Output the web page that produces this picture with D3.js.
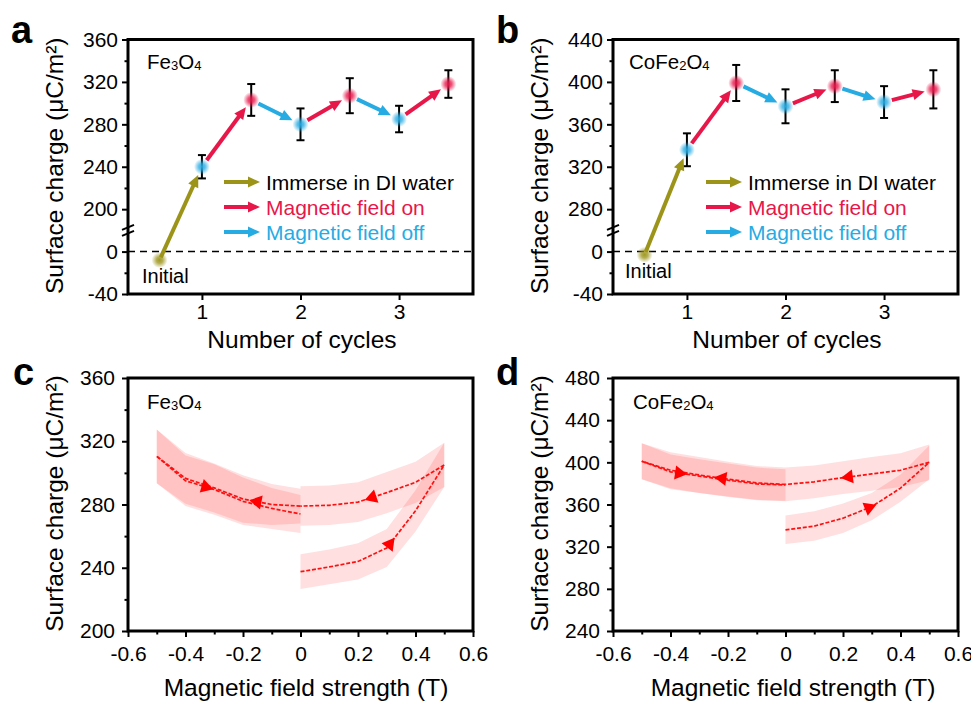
<!DOCTYPE html>
<html>
<head>
<meta charset="utf-8">
<script src="https://cdn.jsdelivr.net/npm/d3@7"></script>
<style>
  body { margin: 0; background: #fff; }
</style>
</head>
<body>
<svg id="chart" width="971" height="702"></svg>
<script>
// ---- data: cycling (a, b) ----
const cycles = [0.57, 1, 1.5, 2, 2.5, 3, 3.5];
const feCharge = [-8, 240, 303, 280, 307, 285, 318];
const feErr = [0, 11, 15, 15, 16.5, 12.5, 13];
const coCharge = [-3, 336, 399, 377, 396, 381, 393];
const coErr = [0, 15.5, 17, 16, 15, 15, 18];
// step i goes from point i to point i+1
const steps = ['immerse', 'on', 'off', 'on', 'off', 'on'];
const cycleTicks = [1, 2, 3];
const feCycleYTicks = [-40, 0, 200, 240, 280, 320, 360];
const coCycleYTicks = [-40, 0, 280, 320, 360, 400, 440];
const legendLabels = ['Immerse in DI water', 'Magnetic field on', 'Magnetic field off'];
const legendSteps = ['immerse', 'on', 'off'];

// ---- data: field sweeps (c, d) ----
const fieldUp = [0, 0.1, 0.2, 0.3, 0.4, 0.5];
const fieldDown = [0.5, 0.4, 0.3, 0.2, 0.1, 0];
const fieldNeg = [0, -0.1, -0.2, -0.3, -0.4, -0.5];
const fieldBack = [-0.5, -0.4, -0.3, -0.2, -0.1, 0];

const feUp = [237.5, 240.5, 244, 252.5, 276, 305];
const feUpErr = [11, 11, 11.5, 12, 13, 14];
const feDown = [305, 294, 287.5, 281.5, 279.5, 279];
const feDownErr = [14, 13, 13, 12.5, 12.5, 12.5];
const feNeg = [279, 280, 283.5, 290.5, 296.5, 310.5];
const feNegErr = [11, 13, 15, 15.5, 16, 17];
const feBack = [310.5, 295, 289.5, 282, 277.5, 274];
const feBackErr = [17, 16, 16, 15, 13, 12];
const feMarks = [0.31, 0.25, -0.15, -0.33];

const coUp = [336, 339.5, 347, 358, 375.5, 400];
const coUpErr = [13.5, 14, 14, 13, 13, 16];
const coDown = [400, 392.5, 389, 385.5, 381.5, 379];
const coDownErr = [17, 16, 16, 15.5, 15.5, 16];
const coNeg = [379, 380.5, 384, 388, 392.5, 401];
const coNegErr = [16, 16, 16.5, 17, 17, 17];
const coBack = [401, 391, 387, 383, 379.5, 378.5];
const coBackErr = [17, 16.5, 16, 16, 15.5, 15];
const coMarks = [0.29, 0.22, -0.22, -0.37];

const fieldTicks = [-0.6, -0.4, -0.2, 0, 0.2, 0.4, 0.6];
const fieldMinor = [-0.5, -0.3, -0.1, 0.1, 0.3, 0.5];
const feFieldYTicks = [200, 240, 280, 320, 360];
const coFieldYTicks = [240, 280, 320, 360, 400, 440, 480];

const FONT = 'Arial, "Liberation Sans", Helvetica, sans-serif';
const colors = { immerse: '#9c9419', on: '#e8174a', off: '#27abe3' };
const textColors = { immerse: '#000', on: '#e8174a', off: '#27abe3' };

const svg = d3.select('#chart');
const defs = svg.append('defs');

// soft glowing dots
Object.keys(colors).forEach(k => {
  const grad = defs.append('radialGradient').attr('id', 'dot-' + k);
  grad.append('stop').attr('offset', '0%').attr('stop-color', colors[k]).attr('stop-opacity', 0.95);
  grad.append('stop').attr('offset', '40%').attr('stop-color', colors[k]).attr('stop-opacity', 0.75);
  grad.append('stop').attr('offset', '100%').attr('stop-color', colors[k]).attr('stop-opacity', 0);
});

function styleAxis(sel, size) {
  sel.attr('font-family', FONT).attr('font-size', size);
  sel.select('.domain').remove();
  sel.selectAll('.tick line').attr('stroke', '#000').attr('stroke-width', 2);
  sel.selectAll('.tick text').attr('fill', '#000');
}

function frame(g, p) {
  g.append('rect')
    .attr('x', p.x0).attr('y', p.y0)
    .attr('width', p.x1 - p.x0).attr('height', p.y1 - p.y0)
    .attr('fill', 'none').attr('stroke', '#000').attr('stroke-width', 3);
}

function material(g, x, y, parts) {
  const t = g.append('text').attr('x', x).attr('y', y)
    .attr('font-family', FONT).attr('font-size', 20.5).attr('fill', '#000');
  parts.forEach(([s, sub]) => {
    if (sub) t.append('tspan').attr('font-size', 13).attr('dy', 1).text(s);
    else t.append('tspan').attr('dy', t.selectAll('tspan').size() ? -1 : 0).text(s);
  });
}

function labels(g, p) {
  g.append('text').attr('x', p.labelX).attr('y', p.labelY)
    .attr('font-family', FONT).attr('font-size', 38).attr('font-weight', 'bold')
    .text(p.label);
  g.append('text')
    .attr('transform', `translate(${p.yTitleX},${(p.y0 + p.y1) / 2 - 1}) rotate(-90)`)
    .attr('text-anchor', 'middle').attr('font-family', FONT).attr('font-size', 24.5)
    .text('Surface charge (μC/m²)');
  g.append('text').attr('x', p.xTitleX).attr('y', p.xTitleY)
    .attr('text-anchor', 'middle').attr('font-family', FONT).attr('font-size', 24.5)
    .text(p.xTitle);
}

function arrow(g, a, b, color, s0, s1) {
  const dx = b[0] - a[0], dy = b[1] - a[1];
  const len = Math.hypot(dx, dy), ux = dx / len, uy = dy / len;
  const st = [a[0] + ux * s0, a[1] + uy * s0];
  const tip = [b[0] - ux * s1, b[1] - uy * s1];
  const head = 12, hw = 5.5;
  const base = [tip[0] - ux * head, tip[1] - uy * head];
  g.append('line').attr('x1', st[0]).attr('y1', st[1])
    .attr('x2', base[0] + ux).attr('y2', base[1] + uy)
    .attr('stroke', color).attr('stroke-width', 4);
  g.append('path')
    .attr('d', `M${tip[0]},${tip[1]}L${base[0] - uy * hw},${base[1] + ux * hw}L${base[0] + uy * hw},${base[1] - ux * hw}Z`)
    .attr('fill', color);
}

function drawCyclePanel(p) {
  const g = svg.append('g');
  const x = d3.scaleLinear().domain([0.25, 3.75]).range([p.x0, p.x1]);
  const t = p.yTicks, n = t.length - 1;
  const step = (p.y1 - p.y0) / n;
  // broken axis: one tick step covers 0 .. t[2]
  const y = d3.scaleLinear()
    .domain([t[0], t[1], t[2], t[n]])
    .range([p.y1, p.y1 - step, p.y1 - 2 * step, p.y0]);

  const minor = [];
  for (let i = 0; i < n; i++) if (i !== 1) minor.push((t[i] + t[i + 1]) / 2);

  g.append('g').attr('transform', `translate(${p.x0},0)`)
    .call(d3.axisLeft(y).tickValues(t).tickSize(6).tickPadding(4).tickFormat(d => String(d)))
    .call(s => styleAxis(s, 21));
  g.append('g').attr('transform', `translate(${p.x0},0)`)
    .call(d3.axisLeft(y).tickValues(minor).tickSize(3.5).tickFormat(''))
    .call(s => styleAxis(s, 21));
  g.append('g').attr('transform', `translate(0,${p.y1})`)
    .call(d3.axisBottom(x).tickValues(cycleTicks).tickSize(6).tickPadding(4).tickFormat(d => String(d)))
    .call(s => styleAxis(s, 21));

  // zero line
  g.append('line').attr('x1', p.x0).attr('x2', p.x1).attr('y1', y(0)).attr('y2', y(0))
    .attr('stroke', '#000').attr('stroke-width', 1.5).attr('stroke-dasharray', '7 5');

  // axis break
  const yb = p.y1 - 1.5 * step;
  g.append('rect').attr('x', p.x0 - 3).attr('y', yb - 3).attr('width', 6).attr('height', 6).attr('fill', '#fff');
  [-3, 3].forEach(o => {
    g.append('line').attr('x1', p.x0 - 6).attr('y1', yb + o + 2.5)
      .attr('x2', p.x0 + 6).attr('y2', yb + o - 2.5)
      .attr('stroke', '#000').attr('stroke-width', 2);
  });

  const pts = cycles.map((c, i) => [x(c), y(p.charge[i])]);

  // error bars
  pts.forEach((pt, i) => {
    const e = p.err[i];
    if (!e) return;
    const yt = y(p.charge[i] + e), yl = y(p.charge[i] - e);
    g.append('line').attr('x1', pt[0]).attr('x2', pt[0]).attr('y1', yt).attr('y2', yl)
      .attr('stroke', '#000').attr('stroke-width', 2);
    [yt, yl].forEach(yy => g.append('line').attr('x1', pt[0] - 4).attr('x2', pt[0] + 4)
      .attr('y1', yy).attr('y2', yy).attr('stroke', '#000').attr('stroke-width', 2));
  });

  // arrows between consecutive states
  steps.forEach((s, i) => arrow(g, pts[i], pts[i + 1], colors[s], i === 0 ? 3 : 8, 9));

  // dots
  pts.forEach((pt, i) => {
    const k = i === 0 ? 'immerse' : (Number.isInteger(cycles[i]) ? 'off' : 'on');
    g.append('circle').attr('cx', pt[0]).attr('cy', pt[1]).attr('r', 8)
      .attr('fill', `url(#dot-${k})`);
  });

  g.append('text').attr('x', p.initX).attr('y', p.initY)
    .attr('font-family', FONT).attr('font-size', 20).text('Initial');

  // legend
  legendSteps.forEach((s, i) => {
    const ly = 182 + i * 25;
    arrow(g, [p.legX, ly], [p.legX + 36, ly], colors[s], 0, 0);
    g.append('text').attr('x', p.legX + 42).attr('y', ly + 7.5)
      .attr('font-family', FONT).attr('font-size', 21).attr('fill', textColors[s])
      .text(legendLabels[i]);
  });

  material(g, p.matX, 70, p.mat);
  frame(g, p);
  labels(g, p);
}

function drawFieldPanel(p) {
  const g = svg.append('g');
  const x = d3.scaleLinear().domain([-0.6, 0.6]).range([p.x0, p.x1]);
  const t = p.yTicks;
  const y = d3.scaleLinear().domain([t[0], t[t.length - 1]]).range([p.y1, p.y0]);
  const minor = t.slice(0, -1).map((v, i) => (v + t[i + 1]) / 2);

  g.append('g').attr('transform', `translate(${p.x0},0)`)
    .call(d3.axisLeft(y).tickValues(t).tickSize(6).tickPadding(7).tickFormat(d => String(d)))
    .call(s => styleAxis(s, 21));
  g.append('g').attr('transform', `translate(${p.x0},0)`)
    .call(d3.axisLeft(y).tickValues(minor).tickSize(3.5).tickFormat(''))
    .call(s => styleAxis(s, 21));
  g.append('g').attr('transform', `translate(0,${p.y1})`)
    .call(d3.axisBottom(x).tickValues(fieldTicks).tickSize(6).tickPadding(9).tickFormat(d => String(d)))
    .call(s => styleAxis(s, 21));
  g.append('g').attr('transform', `translate(0,${p.y1})`)
    .call(d3.axisBottom(x).tickValues(fieldMinor).tickSize(3.5).tickFormat(''))
    .call(s => styleAxis(s, 21));

  const band = d3.area()
    .x(d => x(d.f)).y0(d => y(d.v - d.e)).y1(d => y(d.v + d.e));
  const line = d3.line().x(d => x(d.f)).y(d => y(d.v));

  const rows = p.branches.map(b => b.f.map((f, i) => ({ f, v: b.v[i], e: b.e[i] })));
  rows.forEach(r => g.append('path').attr('d', band(r)).attr('fill', '#ff0000').attr('fill-opacity', 0.125));
  rows.forEach(r => g.append('path').attr('d', line(r)).attr('fill', 'none')
    .attr('stroke', '#ff1010').attr('stroke-width', 1.7).attr('stroke-dasharray', '4 1.8'));

  // direction markers
  rows.forEach((r, bi) => {
    const m = p.marks[bi];
    for (let i = 0; i < r.length - 1; i++) {
      const a = r[i], b = r[i + 1];
      if ((m - a.f) * (m - b.f) > 0) continue;
      const k = (m - a.f) / (b.f - a.f);
      const px = x(m), py = y(a.v + k * (b.v - a.v));
      const ang = Math.atan2(y(b.v) - y(a.v), x(b.f) - x(a.f)) * 180 / Math.PI;
      g.append('path').attr('d', d3.symbol(d3.symbolTriangle, 85)())
        .attr('transform', `translate(${px},${py}) rotate(${ang + 90})`)
        .attr('fill', '#ff0000');
      break;
    }
  });

  material(g, p.matX, 410, p.mat);
  frame(g, p);
  labels(g, p);
}

drawCyclePanel({
  x0: 128, x1: 473, y0: 39.5, y1: 294, yTicks: feCycleYTicks,
  charge: feCharge, err: feErr, label: 'a', labelX: 11, labelY: 43,
  yTitleX: 63, xTitle: 'Number of cycles', xTitleX: 302, xTitleY: 348,
  initX: 142, initY: 283, legX: 224, matX: 147, mat: [['Fe'], ['3', 1], ['O'], ['4', 1]]
});
drawCyclePanel({
  x0: 613, x1: 958, y0: 39.5, y1: 294, yTicks: coCycleYTicks,
  charge: coCharge, err: coErr, label: 'b', labelX: 496, labelY: 43,
  yTitleX: 548, xTitle: 'Number of cycles', xTitleX: 787, xTitleY: 348,
  initX: 625, initY: 278, legX: 706, matX: 629, mat: [['CoFe'], ['2', 1], ['O'], ['4', 1]]
});
drawFieldPanel({
  x0: 128, x1: 473, y0: 378, y1: 631, yTicks: feFieldYTicks,
  branches: [
    { f: fieldUp, v: feUp, e: feUpErr }, { f: fieldDown, v: feDown, e: feDownErr },
    { f: fieldNeg, v: feNeg, e: feNegErr }, { f: fieldBack, v: feBack, e: feBackErr }
  ],
  marks: feMarks, label: 'c', labelX: 13, labelY: 385,
  yTitleX: 63, xTitle: 'Magnetic field strength (T)', xTitleX: 306, xTitleY: 696,
  matX: 147, mat: [['Fe'], ['3', 1], ['O'], ['4', 1]]
});
drawFieldPanel({
  x0: 613, x1: 958, y0: 378, y1: 631, yTicks: coFieldYTicks,
  branches: [
    { f: fieldUp, v: coUp, e: coUpErr }, { f: fieldDown, v: coDown, e: coDownErr },
    { f: fieldNeg, v: coNeg, e: coNegErr }, { f: fieldBack, v: coBack, e: coBackErr }
  ],
  marks: coMarks, label: 'd', labelX: 496, labelY: 385,
  yTitleX: 548, xTitle: 'Magnetic field strength (T)', xTitleX: 793, xTitleY: 696,
  matX: 633, mat: [['CoFe'], ['2', 1], ['O'], ['4', 1]]
});
</script>
</body>
</html>
